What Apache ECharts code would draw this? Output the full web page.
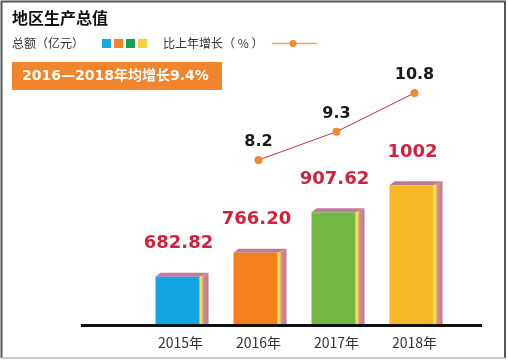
<!DOCTYPE html>
<html>
<head>
<meta charset="utf-8">
<script src="https://cdn.jsdelivr.net/npm/echarts@6/dist/echarts.min.js"></script>
<style>
html,body{margin:0;padding:0;background:#fff;}
#chart{width:508px;height:361px;}
</style>
</head>
<body>
<div id="chart"></div>
<script>
const years = ['2015年', '2016年', '2017年', '2018年'];
const totals = [682.82, 766.20, 907.62, 1002];
const totalLabels = ['682.82', '766.20', '907.62', '1002'];
const growth = [null, 8.2, 9.3, 10.8];
const barColors = ['#13a5e3', '#f2801f', '#74b843', '#f6b826'];
const legendColors = ['#1aa6e2', '#f0862a', '#1a9e55', '#f7d23a'];

const chart = echarts.init(document.getElementById('chart'), null, {renderer: 'canvas'});
const CJK = "'Noto Sans CJK SC', 'DejaVu Sans', sans-serif";
const MIX = "'DejaVu Sans', 'Noto Sans CJK SC', sans-serif";

function renderBar(params, api) {
  const idx = api.value(0);
  const val = api.value(1);
  const top = api.coord([idx, val]);
  const base = api.coord([idx, 514]);
  const cx = top[0];
  const left = cx - 25, right = cx + 19;
  const ty = top[1], by = base[1];
  const depth = 9, rise = 4;
  return {
    type: 'group',
    children: [
      {
        type: 'polygon',
        shape: {points: [[right, ty], [right + depth, ty - rise], [right + depth, by], [right, by]]},
        style: {
          fill: new echarts.graphic.LinearGradient(0, 0, 1, 0, [
            {offset: 0, color: '#f4e54c'},
            {offset: 0.25, color: '#f0dd55'},
            {offset: 0.4, color: '#d6948a'},
            {offset: 1, color: '#bf7890'}
          ])
        }
      },
      {
        type: 'polygon',
        shape: {points: [[left, ty], [left + depth - 4, ty - rise], [right + depth, ty - rise], [right, ty]]},
        style: {fill: '#be7d92'}
      },
      {
        type: 'rect',
        shape: {x: left, y: ty, width: right - left, height: by - ty},
        style: {fill: barColors[params.dataIndex]}
      },
      {
        type: 'text',
        style: {
          text: totalLabels[params.dataIndex],
          x: cx - 2, y: ty - 33,
          align: 'center', verticalAlign: 'middle',
          font: "bold 18px 'DejaVu Sans', sans-serif",
          fill: '#d0223f'
        }
      }
    ]
  };
}

chart.setOption({
  backgroundColor: '#fff',
  animation: false,
  grid: {left: 141.5, right: 54.5, top: 60, bottom: 36},
  xAxis: {
    type: 'category',
    data: years,
    axisLine: {show: false},
    axisTick: {show: false},
    axisLabel: {color: '#333', fontSize: 14, margin: 11, fontFamily: CJK}
  },
  yAxis: [
    {type: 'value', min: 514, max: 1440, show: false, splitLine: {show: false}},
    {type: 'value', min: 1.8, max: 12.08, show: false, splitLine: {show: false}}
  ],
  series: [
    {
      type: 'custom',
      renderItem: renderBar,
      data: totals.map((v, i) => [i, v]),
      encode: {x: 0, y: 1},
      z: 2
    },
    {
      type: 'line',
      yAxisIndex: 1,
      data: growth,
      lineStyle: {color: '#c4314b', width: 1},
      symbol: 'circle',
      symbolSize: 8,
      itemStyle: {color: '#f08a2c'},
      label: {
        show: true, position: 'top', distance: 6,
        fontSize: 16, fontWeight: 'bold', color: '#1a1a1a',
        fontFamily: "'DejaVu Sans', sans-serif"
      },
      z: 3
    }
  ],
  graphic: [
    {type: 'polyline', shape: {points: [[1.5, 358], [1.5, 1.5], [505, 1.5], [505, 358]]}, style: {stroke: '#555', lineWidth: 2, fill: null}},
    {type: 'line', shape: {x1: 1.5, y1: 358, x2: 505, y2: 358}, style: {stroke: '#bbb', lineWidth: 1.5}},
    {type: 'line', shape: {x1: 81, y1: 325.5, x2: 482, y2: 325.5}, style: {stroke: '#111', lineWidth: 3}, z: 5},
    {type: 'text', x: 12, y: 18, style: {text: '地区生产总值', font: "bold 16px " + CJK, fill: '#111', verticalAlign: 'middle'}},
    {type: 'text', x: 12, y: 43, style: {text: '总额（亿元）', font: "12px " + CJK, fill: '#333', verticalAlign: 'middle'}},
    ...legendColors.map((c, i) => ({type: 'rect', shape: {x: 102 + i * 12, y: 39, width: 9, height: 9}, style: {fill: c}})),
    {type: 'text', x: 163, y: 43, style: {text: '比上年增长（ % ）', font: "12px " + CJK, fill: '#333', verticalAlign: 'middle'}},
    {type: 'line', shape: {x1: 272, y1: 43.5, x2: 317, y2: 43.5}, style: {stroke: '#f0a070', lineWidth: 1.5}},
    {type: 'circle', shape: {cx: 293, cy: 43.5, r: 3.5}, style: {fill: '#f08a2c'}},
    {type: 'rect', shape: {x: 12, y: 62, width: 210, height: 28}, style: {fill: '#f0852d'}},
    {type: 'text', x: 22, y: 76.5, style: {text: '2016—2018年均增长9.4%', font: "bold 14px " + MIX, fill: '#fff', verticalAlign: 'middle'}}
  ]
});
</script>
</body>
</html>
